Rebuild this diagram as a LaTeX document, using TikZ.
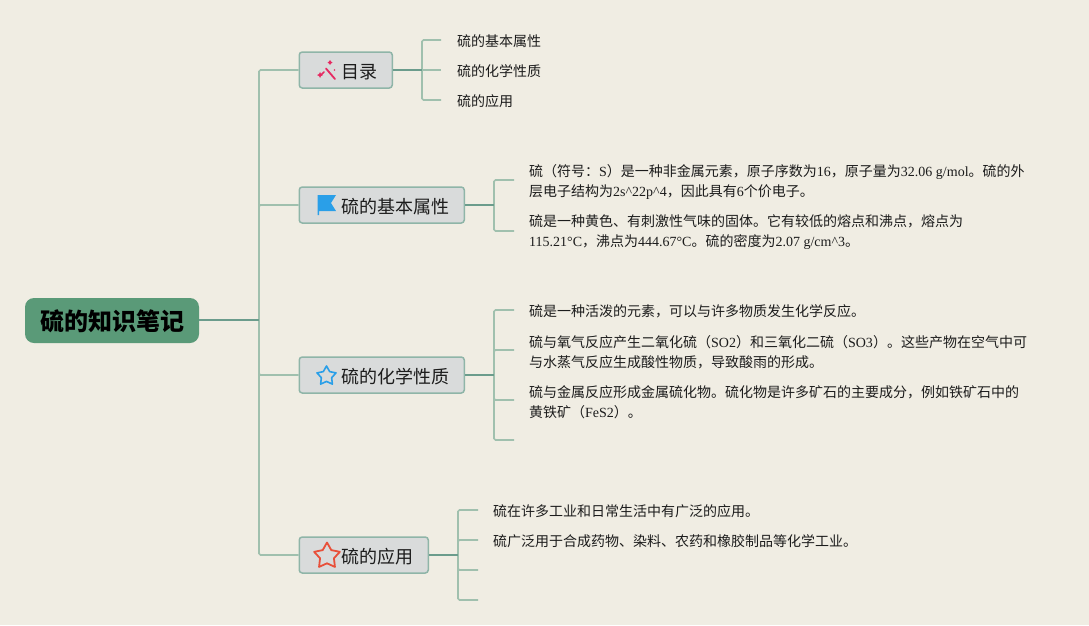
\documentclass[tikz,border=0pt]{standalone}
\usepackage{fontspec}
\usepackage{tikz}
\usetikzlibrary{calc,shapes.geometric}
\setmainfont{Liberation Serif}
\newfontfamily\cjk{Noto Sans CJK SC}
\newcommand{\lat}[1]{{\rmfamily #1}}
\definecolor{pagebg}{HTML}{F0EDE3}
\definecolor{rootgreen}{HTML}{5A9A78}
\definecolor{boxgrey}{HTML}{D9DBDB}
\definecolor{boxedge}{HTML}{8FB5A8}
\definecolor{maingreen}{HTML}{6B9C8C}
\definecolor{twiggreen}{HTML}{A0C0AE}
\definecolor{inkblack}{HTML}{1C1C1C}
\definecolor{wandpink}{HTML}{E62A62}
\definecolor{flagblue}{HTML}{2A9FE8}
\definecolor{starred}{HTML}{E8503A}
\tikzset{
	rootbox/.style={draw=none, fill=rootgreen, rounded corners=9, minimum width=174, minimum height=45, inner sep=0, text=black, font=\cjk\bfseries\fontsize{24}{24}\selectfont, text height=23.12, text depth=2.88},
	topicbox/.style={draw=boxedge, fill=boxgrey, line width=1.5, rounded corners=3, minimum height=36, inner ysep=0, inner xsep=15, anchor=west, text=inkblack, font=\cjk\fontsize{18}{18}\selectfont, text height=18.84, text depth=2.16},
	leaftext/.style={anchor=west, inner xsep=16, inner ysep=0, align=left, text=inkblack, font=\cjk\fontsize{14}{20}\selectfont},
	mainline/.style={draw=maingreen, line width=2},
	twigline/.style={draw=twiggreen, line width=1.7, rounded corners=1.5},
	iconstar/.style={star, star points=5, star point ratio=1.85, line join=round, inner sep=0},
}
\begin{document}
\begin{tikzpicture}[x=1pt, y=-1pt]
		%%%%% START %%%%%
		\fill[pagebg] (0, 0) rectangle (1089, 625);
		\useasboundingbox (0, 0) rectangle (1089, 625);
		
		\node[rootbox] (root) at (112, 320.5) {硫的知识笔记};
		
		\node[topicbox] (toc) at (298.5, 70) {\hspace{27pt}目录};
		\node[topicbox] (props) at (298.5, 205) {\hspace{27pt}硫的基本属性};
		\node[topicbox] (chem) at (298.5, 375) {\hspace{27pt}硫的化学性质};
		\node[topicbox] (uses) at (298.5, 555) {\hspace{27pt}硫的应用};
		
		\coordinate (hub) at (259, 320);
		\coordinate (tochub) at (422, 70);
		\coordinate (propshub) at (494, 205);
		\coordinate (chemhub) at (494, 375);
		\coordinate (useshub) at (458, 555);
		
		% leaves
		\node[leaftext] (toca) at (441, 41) {硫的基本属性};
		\node[leaftext] (tocb) at (441, 71) {硫的化学性质};
		\node[leaftext] (tocc) at (441, 101) {硫的应用};
		
		\node[leaftext, inner xsep=15] (propsa) at (514, 182) {硫（符号：\lat{S}）是一种非金属元素，原子序数为\lat{16}，原子量为\lat{32.06 g/mol}。硫的外\\层电子结构为\lat{2s\textasciicircum22p\textasciicircum4}，因此具有\lat{6}个价电子。};
		\node[leaftext, inner xsep=15] (propsb) at (514, 232) {硫是一种黄色、有刺激性气味的固体。它有较低的熔点和沸点，熔点为\\\lat{115.21°C}，沸点为\lat{444.67°C}。硫的密度为\lat{2.07 g/cm\textasciicircum3}。};
		
		\node[leaftext, inner xsep=15] (chema) at (514, 311) {硫是一种活泼的元素，可以与许多物质发生化学反应。};
		\node[leaftext, inner xsep=15] (chemb) at (514, 352) {硫与氧气反应产生二氧化硫（\lat{SO2}）和三氧化二硫（\lat{SO3}）。这些产物在空气中可\\与水蒸气反应生成酸性物质，导致酸雨的形成。};
		\node[leaftext, inner xsep=15] (chemc) at (514, 402) {硫与金属反应形成金属硫化物。硫化物是许多矿石的主要成分，例如铁矿石中的\\黄铁矿（\lat{FeS2}）。};
		\coordinate (chemd) at (514, 440);
		
		\node[leaftext, inner xsep=15] (usesa) at (478, 511) {硫在许多工业和日常生活中有广泛的应用。};
		\node[leaftext, inner xsep=15] (usesb) at (478, 541) {硫广泛用于合成药物、染料、农药和橡胶制品等化学工业。};
		\coordinate (usesc) at (478, 570);
		\coordinate (usesd) at (478, 600);
		
		% connectors
		\draw[twigline] (hub) |- (toc.west);
		\draw[twigline] (hub) |- (props.west);
		\draw[twigline] (hub) |- (chem.west);
		\draw[twigline] (hub) |- (uses.west);
		\draw[twigline] (tochub) |- ($(toca.west)+(0,-1)$);
		\draw[twigline] (tochub) -- ($(tocb.west)+(0,-1)$);
		\draw[twigline] (tochub) |- ($(tocc.west)+(0,-1)$);
		\draw[twigline] (propshub) |- ($(propsa.west)+(0,-2)$);
		\draw[twigline] (propshub) |- ($(propsb.west)+(0,-1)$);
		\draw[twigline] (chemhub) |- ($(chema.west)+(0,-1)$);
		\draw[twigline] (chemhub) |- ($(chemb.west)+(0,-2)$);
		\draw[twigline] (chemhub) |- ($(chemc.west)+(0,-2)$);
		\draw[twigline] (chemhub) |- (chemd);
		\draw[twigline] (useshub) |- ($(usesa.west)+(0,-1)$);
		\draw[twigline] (useshub) |- ($(usesb.west)+(0,-1)$);
		\draw[twigline] (useshub) |- (usesc);
		\draw[twigline] (useshub) |- (usesd);
		
		\draw[mainline] (root.east |- hub) -- (hub);
		\draw[mainline] (toc.east) -- (tochub);
		\draw[mainline] (props.east) -- (propshub);
		\draw[mainline] (chem.east) -- (chemhub);
		\draw[mainline] (uses.east) -- (useshub);
		
		% icons
		\draw[line width=1.8, color=wandpink, line cap=round] (326, 68.5) -- (335, 79);
		\draw[line width=1.5, color=wandpink, line cap=round] (321, 75) -- (324, 72);
		\fill[wandpink] (330, 60) -- (331, 61.5) -- (332.5, 62.5) -- (331, 63.5) -- (330, 65) -- (329, 63.5) -- (327.5, 62.5) -- (329, 61.5) -- cycle;
		\fill[wandpink] (320, 72) -- (321, 74) -- (323, 75) -- (321, 76) -- (320, 78) -- (319, 76) -- (317, 75) -- (319, 74) -- cycle;
		\fill[wandpink] (334.5, 70) circle (0.8);
		
		\fill[flagblue] (317.5, 195) -- (336, 195) -- (331, 203) -- (336, 211) -- (319, 211) -- (319, 215) -- (317.5, 215) -- cycle;
		
		\node[iconstar, draw=flagblue, line width=1.6, minimum size=20] (bluestar) at (326.5, 376) {};
		\node[iconstar, draw=starred, line width=1.8, minimum size=27] (redstar) at (327, 556) {};
		
		%%%%% END %%%%%
	\end{tikzpicture}
\end{document}
